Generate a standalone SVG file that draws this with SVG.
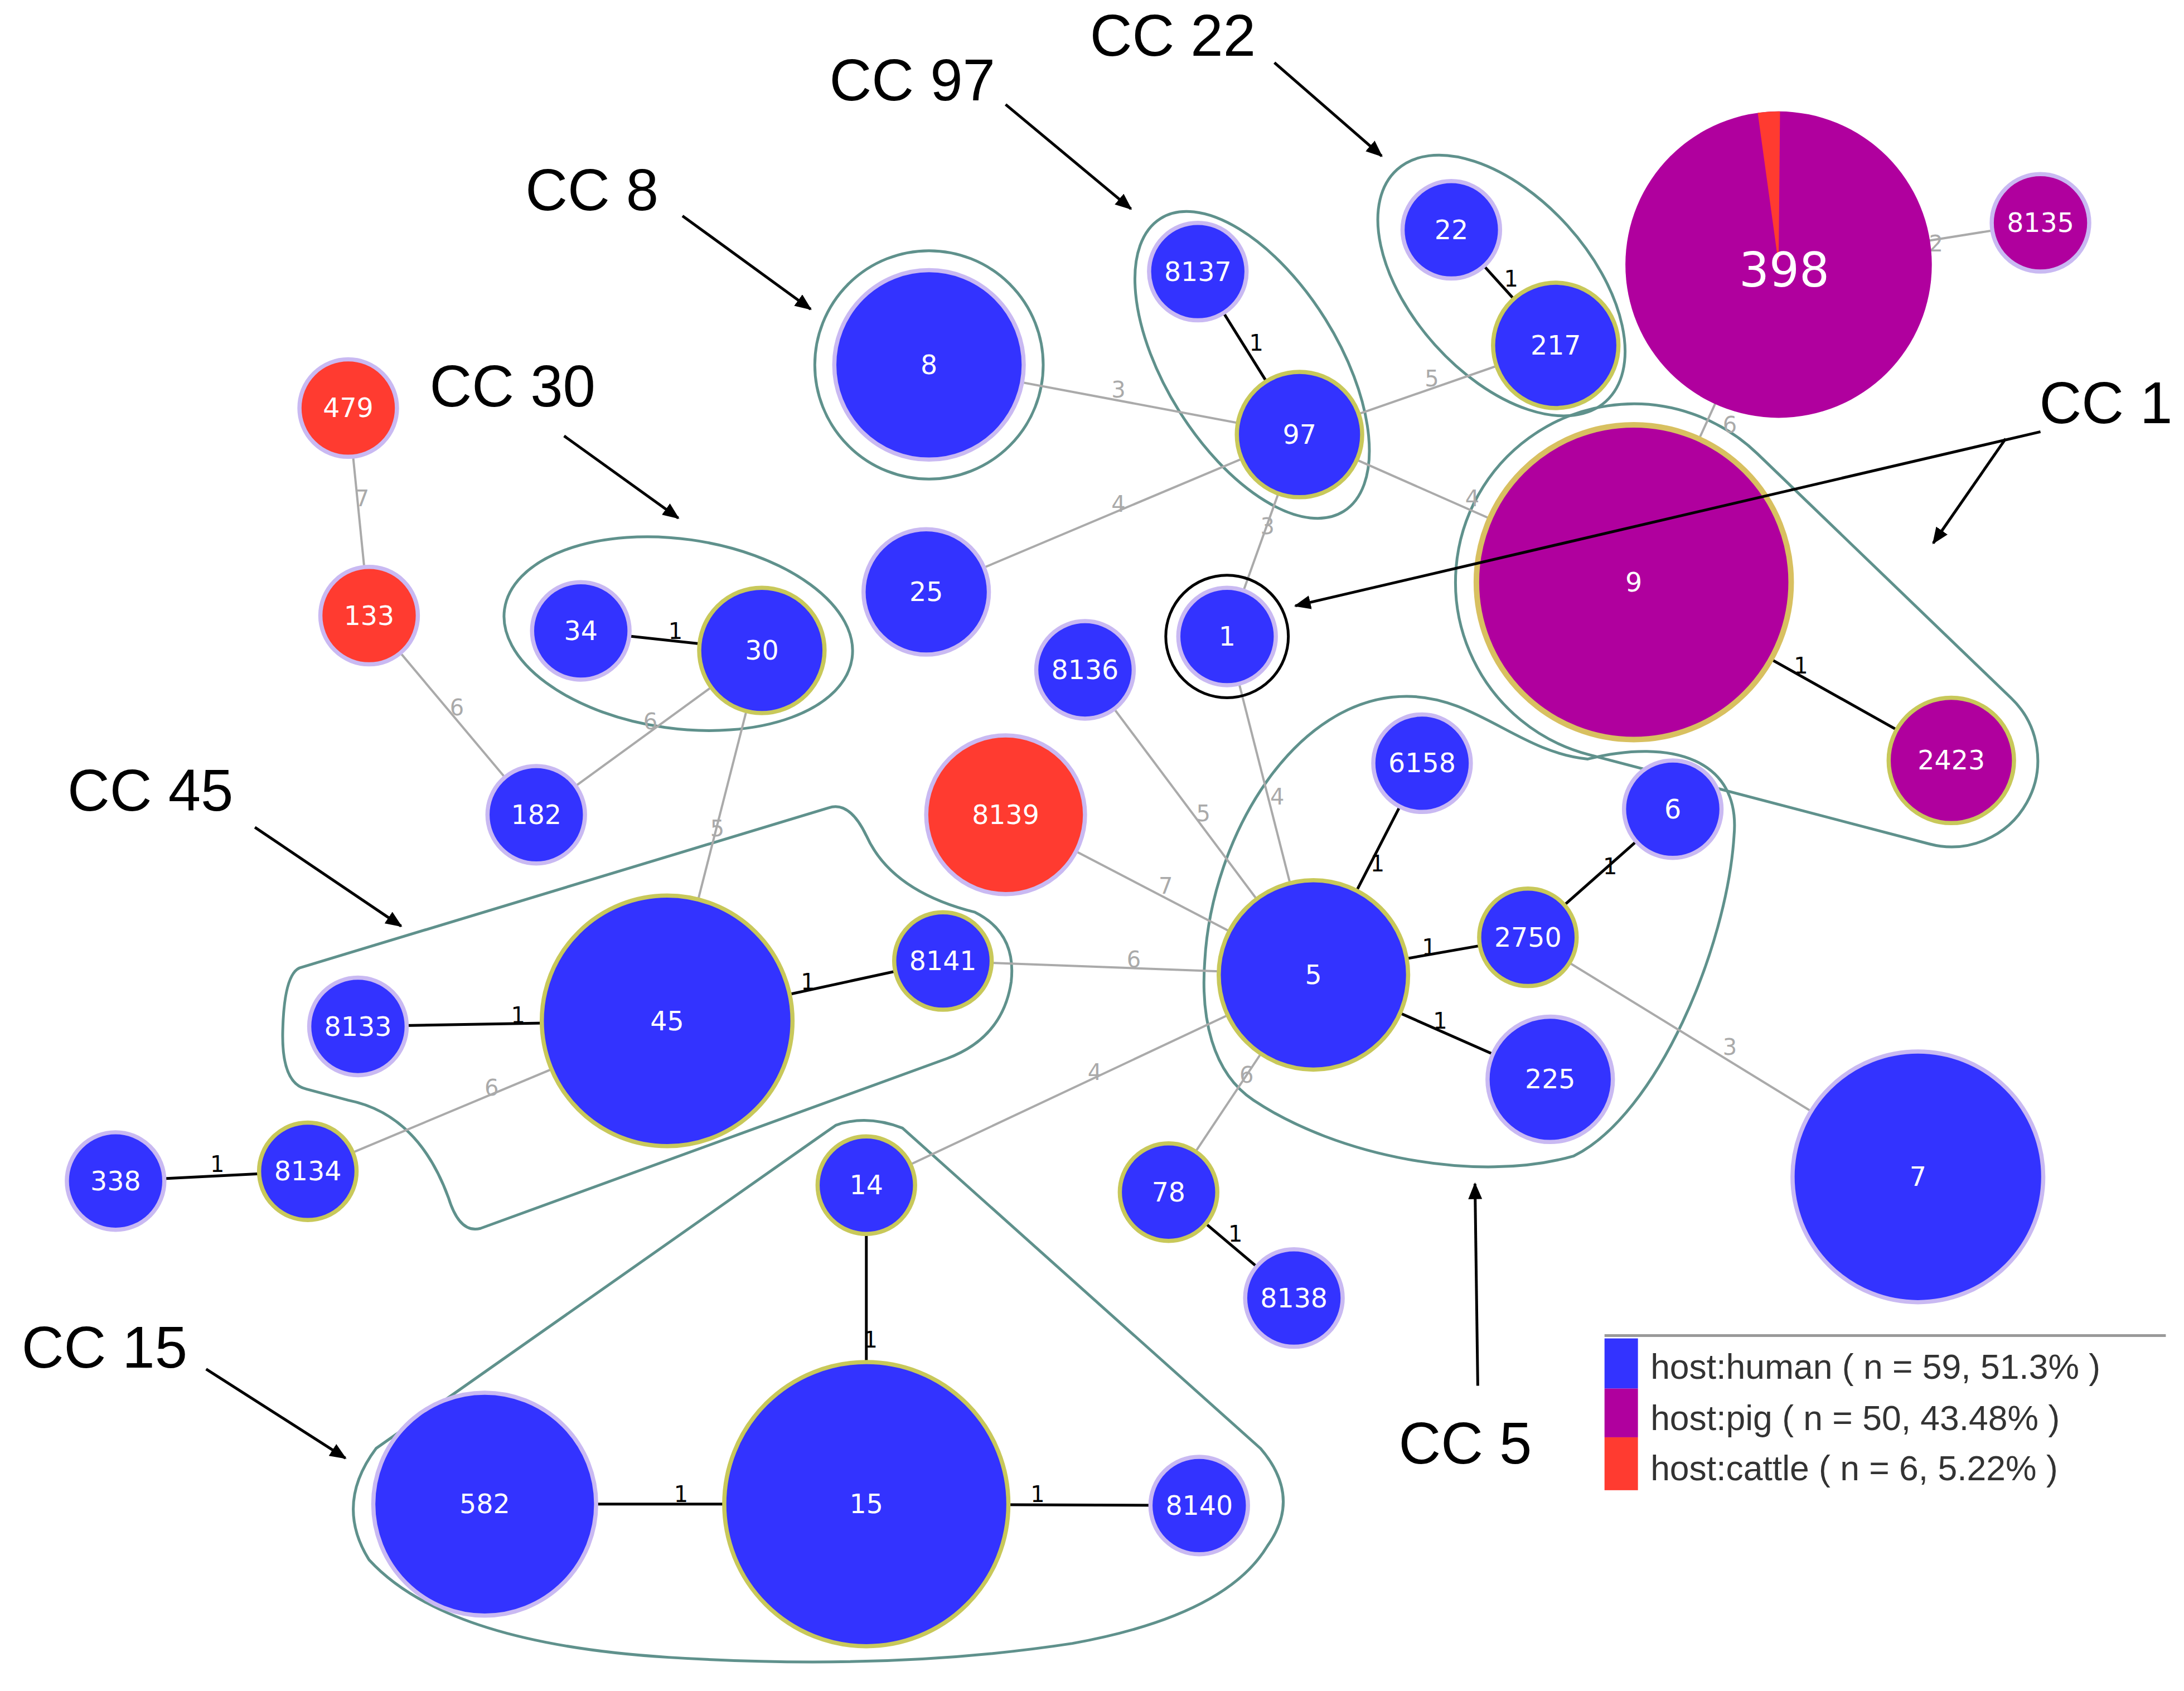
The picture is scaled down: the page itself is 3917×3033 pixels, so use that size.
<svg xmlns="http://www.w3.org/2000/svg" width="3917" height="3033" viewBox="0 0 3917 3033">
<style>
.n{stroke:#c9b9f2;stroke-width:3}
.y{stroke:#c8c85a;stroke-width:3}
.b{fill:#3333ff}.p{fill:#b0009e}.r{fill:#ff3b30}
.t{font-family:"DejaVu Sans",sans-serif;font-size:19px;fill:#fff;text-anchor:middle;dominant-baseline:central}
.e{stroke:#aaaaaa;stroke-width:1.6;fill:none}
.k{stroke:#000;stroke-width:2;fill:none}
.el{font-family:"DejaVu Sans",sans-serif;font-size:16px;fill:#aaaaaa;text-anchor:middle;dominant-baseline:central}
.kl{font-family:"DejaVu Sans",sans-serif;font-size:16px;fill:#000;text-anchor:middle;dominant-baseline:central}
.h{fill:none;stroke:#5f918c;stroke-width:2}
.cc{font-family:"Liberation Sans",Arial,sans-serif;font-size:42px;fill:#000;text-anchor:middle}
.a{stroke:#000;stroke-width:2;fill:none;marker-end:url(#ah)}
.lg{font-family:"Liberation Sans",Arial,sans-serif;font-size:25px;fill:#333}
</style>
<defs><marker id="ah" markerWidth="12" markerHeight="10" refX="11" refY="5" orient="auto" markerUnits="userSpaceOnUse"><path d="M0,0 L12,5 L0,10 Z" fill="#000"/></marker></defs>
<rect width="3917" height="3033" fill="#fff"/>
<g transform="scale(2.498)">
<g id="hulls">
<circle class="h" cx="667" cy="262" r="82"/>
<ellipse class="h" cx="899" cy="262" rx="124" ry="62" transform="rotate(58 899 262)"/>
<ellipse class="h" cx="1078" cy="205" rx="112" ry="64" transform="rotate(48 1078 205)"/>
<ellipse class="h" cx="487" cy="455" rx="126" ry="68" transform="rotate(8 487 455)"/>
<path class="h" d="M1261.7,325.7 L1444,501.3 A62 62 0 0 1 1385.3,606 L1140.5,541.8 A128 128 0 1 1 1261.7,325.7 Z"/>
<path class="h" d="M865,690 C870,600 930,500 1010,500 C1060,500 1090,540 1140,545 C1200,530 1250,545 1245,600 C1240,680 1190,800 1130,830 C1060,850 960,830 900,790 C870,770 862,730 865,690 Z"/>
<path class="h" d="M215,695 L595,580 Q610,575 622,600 Q640,640 700,655 Q730,670 726,705 Q720,745 680,760 L345,882 Q330,886 322,860 Q300,800 250,790 L220,782 Q202,778 203,740 Q204,700 215,695 Z"/>
<path class="h" d="M600,808 Q622,800 648,810 L905,1040 Q935,1075 910,1110 Q880,1160 770,1180 Q640,1200 480,1190 Q320,1180 265,1120 Q240,1080 270,1040 L590,815 Z"/>
</g>
<g id="connectors">
<line class="e" x1="1465" y1="160" x2="1277" y2="190"/><text class="el" x="1390" y="175">2</text>
<line class="k" x1="1042" y1="165" x2="1117" y2="248"/><text class="kl" x="1085" y="200">1</text>
<line class="k" x1="860" y1="195" x2="933" y2="312"/><text class="kl" x="902" y="246">1</text>
<line class="e" x1="667" y1="262" x2="933" y2="312"/><text class="el" x="803" y="280">3</text>
<line class="e" x1="933" y1="312" x2="1117" y2="248"/><text class="el" x="1028" y="272">5</text>
<line class="e" x1="933" y1="312" x2="1173" y2="418"/><text class="el" x="1057" y="358">4</text>
<line class="e" x1="665" y1="425" x2="933" y2="312"/><text class="el" x="803" y="362">4</text>
<line class="e" x1="933" y1="312" x2="881" y2="457"/><text class="el" x="910" y="378">3</text>
<line class="e" x1="1277" y1="190" x2="1173" y2="418"/><text class="el" x="1242" y="305">6</text>
<line class="k" x1="1173" y1="418" x2="1401" y2="546"/><text class="kl" x="1293" y="478">1</text>
<line class="e" x1="250" y1="293" x2="265" y2="442"/><text class="el" x="260" y="358">7</text>
<line class="e" x1="265" y1="442" x2="385" y2="585"/><text class="el" x="328" y="508">6</text>
<line class="e" x1="385" y1="585" x2="547" y2="467"/><text class="el" x="467" y="518">6</text>
<line class="k" x1="417" y1="453" x2="547" y2="467"/><text class="kl" x="485" y="453">1</text>
<line class="e" x1="547" y1="467" x2="479" y2="733"/><text class="el" x="515" y="595">5</text>
<line class="e" x1="881" y1="457" x2="943" y2="700"/><text class="el" x="917" y="572">4</text>
<line class="e" x1="779" y1="481" x2="943" y2="700"/><text class="el" x="864" y="584">5</text>
<line class="e" x1="722" y1="585" x2="943" y2="700"/><text class="el" x="837" y="636">7</text>
<line class="k" x1="1021" y1="548" x2="943" y2="700"/><text class="kl" x="989" y="620">1</text>
<line class="k" x1="1201" y1="581" x2="1097" y2="673"/><text class="kl" x="1156" y="622">1</text>
<line class="k" x1="1097" y1="673" x2="943" y2="700"/><text class="kl" x="1026" y="680">1</text>
<line class="k" x1="943" y1="700" x2="1113" y2="775"/><text class="kl" x="1034" y="733">1</text>
<line class="e" x1="1097" y1="673" x2="1377" y2="845"/><text class="el" x="1242" y="752">3</text>
<line class="e" x1="677" y1="690" x2="943" y2="700"/><text class="el" x="814" y="689">6</text>
<line class="k" x1="479" y1="733" x2="677" y2="690"/><text class="kl" x="580" y="705">1</text>
<line class="k" x1="257" y1="737" x2="479" y2="733"/><text class="kl" x="372" y="729">1</text>
<line class="e" x1="221" y1="841" x2="479" y2="733"/><text class="el" x="353" y="781">6</text>
<line class="k" x1="83" y1="848" x2="221" y2="841"/><text class="kl" x="156" y="836">1</text>
<line class="e" x1="622" y1="851" x2="943" y2="700"/><text class="el" x="786" y="770">4</text>
<line class="e" x1="839" y1="856" x2="943" y2="700"/><text class="el" x="895" y="772">6</text>
<line class="k" x1="839" y1="856" x2="929" y2="932"/><text class="kl" x="887" y="886">1</text>
<line class="k" x1="622" y1="851" x2="622" y2="1080"/><text class="kl" x="625" y="962">1</text>
<line class="k" x1="348" y1="1080" x2="622" y2="1080"/><text class="kl" x="489" y="1073">1</text>
<line class="k" x1="622" y1="1080" x2="861" y2="1081"/><text class="kl" x="745" y="1073">1</text>
</g>
<g id="n8135"><circle class="p n" cx="1465" cy="160" r="35"/><text class="t" x="1465" y="160">8135</text></g>
<g id="n398"><circle class="p" cx="1277" cy="190" r="110"/><path class="r" d="M1277,190 L1262,81 A110 110 0 0 1 1278,80 Z"/><text class="t" x="1281" y="194" style="font-size:34px">398</text></g>
<g id="n22"><circle class="b n" cx="1042" cy="165" r="35"/><text class="t" x="1042" y="165">22</text></g>
<g id="n217"><circle class="b y" cx="1117" cy="248" r="45"/><text class="t" x="1117" y="248">217</text></g>
<g id="n8137"><circle class="b n" cx="860" cy="195" r="35"/><text class="t" x="860" y="195">8137</text></g>
<g id="n97"><circle class="b y" cx="933" cy="312" r="45"/><text class="t" x="933" y="312">97</text></g>
<g id="n8"><circle class="b n" cx="667" cy="262" r="68"/><text class="t" x="667" y="262">8</text></g>
<g id="n479"><circle class="r n" cx="250" cy="293" r="35"/><text class="t" x="250" y="293">479</text></g>
<g id="n133"><circle class="r n" cx="265" cy="442" r="35"/><text class="t" x="265" y="442">133</text></g>
<g id="n34"><circle class="b n" cx="417" cy="453" r="35"/><text class="t" x="417" y="453">34</text></g>
<g id="n30"><circle class="b y" cx="547" cy="467" r="45"/><text class="t" x="547" y="467">30</text></g>
<g id="n25"><circle class="b n" cx="665" cy="425" r="45"/><text class="t" x="665" y="425">25</text></g>
<g id="n1"><circle cx="881" cy="457" r="44" fill="none" stroke="#000" stroke-width="2"/><circle class="b n" cx="881" cy="457" r="35"/><text class="t" x="881" y="457">1</text></g>
<g id="n8136"><circle class="b n" cx="779" cy="481" r="35"/><text class="t" x="779" y="481">8136</text></g>
<g id="n9"><circle class="p" cx="1173" cy="418" r="113" stroke="#d8c060" stroke-width="4"/><text class="t" x="1173" y="418">9</text></g>
<g id="n2423"><circle class="p y" cx="1401" cy="546" r="45"/><text class="t" x="1401" y="546">2423</text></g>
<g id="n182"><circle class="b n" cx="385" cy="585" r="35"/><text class="t" x="385" y="585">182</text></g>
<g id="n8139"><circle class="r n" cx="722" cy="585" r="57"/><text class="t" x="722" y="585">8139</text></g>
<g id="n6158"><circle class="b n" cx="1021" cy="548" r="35"/><text class="t" x="1021" y="548">6158</text></g>
<g id="n6"><circle class="b n" cx="1201" cy="581" r="35"/><text class="t" x="1201" y="581">6</text></g>
<g id="n2750"><circle class="b y" cx="1097" cy="673" r="35"/><text class="t" x="1097" y="673">2750</text></g>
<g id="n5"><circle class="b y" cx="943" cy="700" r="68"/><text class="t" x="943" y="700">5</text></g>
<g id="n225"><circle class="b n" cx="1113" cy="775" r="45"/><text class="t" x="1113" y="775">225</text></g>
<g id="n7"><circle class="b n" cx="1377" cy="845" r="90"/><text class="t" x="1377" y="845">7</text></g>
<g id="n8141"><circle class="b y" cx="677" cy="690" r="35"/><text class="t" x="677" y="690">8141</text></g>
<g id="n45"><circle class="b y" cx="479" cy="733" r="90"/><text class="t" x="479" y="733">45</text></g>
<g id="n8133"><circle class="b n" cx="257" cy="737" r="35"/><text class="t" x="257" y="737">8133</text></g>
<g id="n338"><circle class="b n" cx="83" cy="848" r="35"/><text class="t" x="83" y="848">338</text></g>
<g id="n8134"><circle class="b y" cx="221" cy="841" r="35"/><text class="t" x="221" y="841">8134</text></g>
<g id="n14"><circle class="b y" cx="622" cy="851" r="35"/><text class="t" x="622" y="851">14</text></g>
<g id="n78"><circle class="b y" cx="839" cy="856" r="35"/><text class="t" x="839" y="856">78</text></g>
<g id="n8138"><circle class="b n" cx="929" cy="932" r="35"/><text class="t" x="929" y="932">8138</text></g>
<g id="n582"><circle class="b n" cx="348" cy="1080" r="80"/><text class="t" x="348" y="1080">582</text></g>
<g id="n15"><circle class="b y" cx="622" cy="1080" r="102"/><text class="t" x="622" y="1080">15</text></g>
<g id="n8140"><circle class="b n" cx="861" cy="1081" r="35"/><text class="t" x="861" y="1081">8140</text></g>
<g id="labels">
<text class="cc" x="842" y="40">CC 22</text><line class="a" x1="915" y1="45" x2="992" y2="112"/>
<text class="cc" x="655" y="72">CC 97</text><line class="a" x1="722" y1="75" x2="812" y2="150"/>
<text class="cc" x="425" y="151">CC 8</text><line class="a" x1="490" y1="155" x2="582" y2="222"/>
<text class="cc" x="368" y="292">CC 30</text><line class="a" x1="405" y1="313" x2="487" y2="372"/>
<text class="cc" x="1512" y="304">CC 1</text><line class="a" x1="1465" y1="310" x2="930" y2="435"/><line class="a" x1="1440" y1="315" x2="1388" y2="390"/>
<text class="cc" x="108" y="582">CC 45</text><line class="a" x1="183" y1="594" x2="288" y2="665"/>
<text class="cc" x="75" y="982">CC 15</text><line class="a" x1="148" y1="983" x2="248" y2="1047"/>
<text class="cc" x="1052" y="1051">CC 5</text><line class="a" x1="1061" y1="995" x2="1059" y2="850"/>
</g>
<g id="legend">
<line x1="1152" y1="959" x2="1555" y2="959" stroke="#999" stroke-width="2"/>
<rect x="1152" y="961" width="24" height="36" fill="#3333ff"/>
<rect x="1152" y="997" width="24" height="35" fill="#b0009e"/>
<rect x="1152" y="1032" width="24" height="38" fill="#ff3b30"/>
<text class="lg" x="1185" y="990">host:human ( n = 59, 51.3% )</text>
<text class="lg" x="1185" y="1027">host:pig ( n = 50, 43.48% )</text>
<text class="lg" x="1185" y="1063">host:cattle ( n = 6, 5.22% )</text>
</g>
</g>
</svg>
